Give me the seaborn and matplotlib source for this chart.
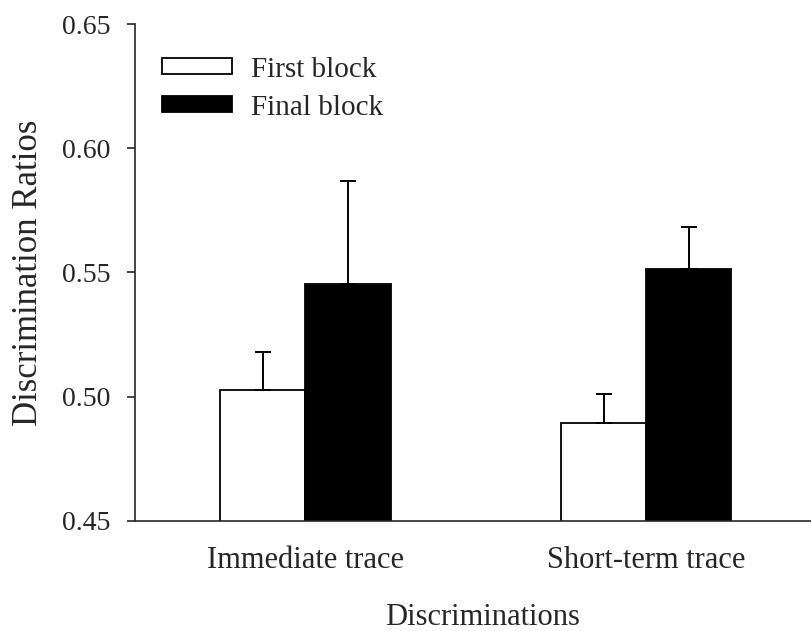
import matplotlib
matplotlib.use("Agg")
import matplotlib.pyplot as plt
import seaborn as sns
import pandas as pd
import numpy as np

# Mean discrimination ratios (with SEM) for the first and final training blocks
discriminations = ["Immediate trace", "Short-term trace"]
blocks = ["First block", "Final block"]
first_block = [0.5027, 0.4895]
final_block = [0.5454, 0.5515]
first_sem = [0.0154, 0.0117]
final_sem = [0.0416, 0.0167]
y_ticks = [0.45, 0.50, 0.55, 0.60, 0.65]

df = pd.DataFrame({
    "Discriminations": discriminations * 2,
    "Block": [blocks[0]] * 2 + [blocks[1]] * 2,
    "Ratio": first_block + final_block,
    "SEM": first_sem + final_sem,
})

sns.set_style("ticks")
plt.rcParams["font.family"] = ["Liberation Serif", "DejaVu Serif"]

fig = plt.figure(figsize=(8.12, 6.31), dpi=100)
ax = fig.add_axes([135 / 812, 1 - 520.7 / 631, 681.5 / 812, (520.7 - 24.3) / 631])

sns.barplot(
    data=df, x="Discriminations", y="Ratio", hue="Block",
    hue_order=blocks, order=discriminations,
    palette={"First block": "white", "Final block": "black"},
    edgecolor="black", linewidth=1.3, width=0.5, errorbar=None, ax=ax,
)

# one-sided (upward) SEM bars
for container, level in zip(ax.containers, blocks):
    sub = df[df["Block"] == level].set_index("Discriminations").loc[discriminations]
    xs = [b.get_x() + b.get_width() / 2 for b in container]
    hs = [b.get_height() for b in container]
    err = sub["SEM"].to_numpy()
    ax.errorbar(xs, hs, yerr=[np.zeros_like(err), err], fmt="none",
                ecolor="black", elinewidth=1.4, capsize=5.5, capthick=1.4, zorder=5)

ax.set_xlim(-0.5, 1.5)
ax.set_ylim(0.45, 0.65)
ax.set_yticks(y_ticks)
ax.set_yticklabels([f"{t:.2f}" for t in y_ticks])
sns.despine(ax=ax)
for s in ("left", "bottom"):
    ax.spines[s].set_linewidth(1.2)
ax.tick_params(axis="y", direction="out", length=6, width=1.2, labelsize=20, pad=11.5)
ax.tick_params(axis="x", length=0, labelsize=22, pad=18)

ax.set_ylabel("Discrimination Ratios", fontsize=25)
ax.yaxis.label.set_va("baseline")
ax.yaxis.set_label_coords(-0.1438, 0.5)
ax.set_xlabel("Discriminations", fontsize=22)
ax.xaxis.label.set_va("baseline")
ax.xaxis.set_label_coords(0.51, -0.2095)

handles, labels = ax.get_legend_handles_labels()
ax.legend(handles, labels, loc="upper left", bbox_to_anchor=(0.04, 0.935),
          frameon=False, fontsize=21, handlelength=2.4, handleheight=0.48,
          borderpad=0, borderaxespad=0, labelspacing=0.41, handletextpad=0.65)

fig.savefig("out.png", dpi=100)
